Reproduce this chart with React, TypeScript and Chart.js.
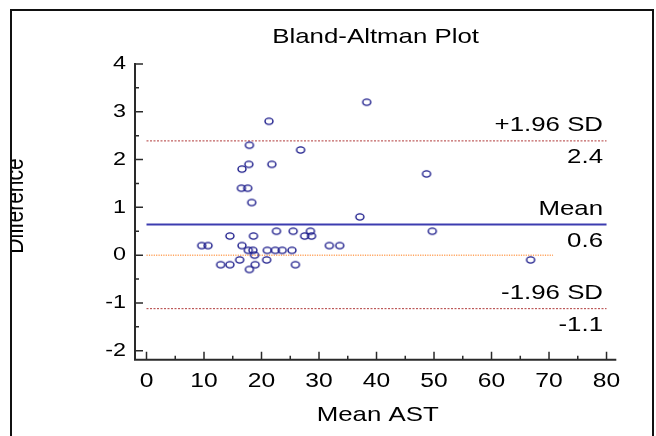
import React, { useEffect, useRef } from "react";
import { Chart, registerables } from "chart.js";

Chart.register(...registerables);

// ---- data ----
const meanAST = [
  21.3, 17.9, 26.8, 17.8, 21.8, 16.6, 16.5, 17.6, 18.3, 22.6,
  25.5, 28.5, 27.5, 28.7, 14.5, 18.6, 9.6, 10.7, 16.6, 31.8,
  33.6, 17.7, 18.5, 21.0, 22.4, 23.6, 25.3, 18.8, 16.2, 20.9,
  12.9, 14.5, 18.9, 25.9, 17.9, 38.3, 48.7, 37.1, 49.7, 66.8,
];
const difference = [
  2.8, 2.3, 2.2, 1.9, 1.9, 1.8, 1.4, 1.4, 1.1, 0.5,
  0.5, 0.5, 0.4, 0.4, 0.4, 0.4, 0.2, 0.2, 0.2, 0.2,
  0.2, 0.1, 0.1, 0.1, 0.1, 0.1, 0.1, 0.0, -0.1, -0.1,
  -0.2, -0.2, -0.2, -0.2, -0.3, 3.2, 1.7, 0.8, 0.5, -0.1,
];
const meanDiff = 0.64;
const upperLoA = 2.39;
const lowerLoA = -1.12;
const lineStart = 0;
const lineEnd = 80;
const zeroLineEnd = 70.7;
const xTicks = [0, 10, 20, 30, 40, 50, 60, 70, 80];
const yTicks = [-2, -1, 0, 1, 2, 3, 4];
const upperText = ["+1.96 SD", "2.4"];
const meanText = ["Mean", "0.6"];
const lowerText = ["-1.96 SD", "-1.1"];
const chartTitle = "Bland-Altman Plot";
const xTitle = "Mean AST";
const yTitle = "Difference";

const SX = 1.23;
const FONT = '"Liberation Sans", Arial, sans-serif';

function makeMarker(): HTMLCanvasElement {
  const c = document.createElement("canvas");
  c.width = 12;
  c.height = 10;
  const g = c.getContext("2d")!;
  g.strokeStyle = "#1a1a8a";
  g.lineWidth = 1.4;
  g.beginPath();
  g.ellipse(6, 5, 4.0, 3.1, 0, 0, Math.PI * 2);
  g.stroke();
  return c;
}

function txt(
  ctx: CanvasRenderingContext2D,
  s: string,
  x: number,
  y: number,
  size: number,
  align: CanvasTextAlign,
  baseline: CanvasTextBaseline
) {
  ctx.save();
  ctx.translate(x, y);
  ctx.scale(SX, 1);
  ctx.font = `${size}px ${FONT}`;
  ctx.textAlign = align;
  ctx.textBaseline = baseline;
  ctx.fillStyle = "#000";
  ctx.fillText(s, 0, 0);
  ctx.restore();
}

const decor = {
  id: "decor",
  afterDraw(chart: any) {
    const ctx: CanvasRenderingContext2D = chart.ctx;
    const xs = chart.scales.x;
    const ys = chart.scales.y;
    const a = chart.chartArea;
    ctx.save();

    // outer frame
    ctx.strokeStyle = "#111";
    ctx.lineWidth = 2;
    ctx.strokeRect(11, 10, 642, 520);

    // axes
    ctx.strokeStyle = "#2a2a2a";
    ctx.lineWidth = 2;
    ctx.beginPath();
    ctx.moveTo(a.left, a.top);
    ctx.lineTo(a.left, a.bottom);
    ctx.lineTo(a.right, a.bottom);
    ctx.stroke();

    // ticks (inward)
    ctx.lineWidth = 1.5;
    ctx.beginPath();
    yTicks.forEach((v) => {
      const p = ys.getPixelForValue(v);
      ctx.moveTo(a.left, p);
      ctx.lineTo(a.left + 8, p);
      if (v < yTicks[yTicks.length - 1]) {
        const m = ys.getPixelForValue(v + 0.5);
        ctx.moveTo(a.left, m);
        ctx.lineTo(a.left + 4, m);
      }
    });
    xTicks.forEach((v) => {
      const p = xs.getPixelForValue(v);
      ctx.moveTo(p, a.bottom);
      ctx.lineTo(p, a.bottom - 8);
      if (v < xTicks[xTicks.length - 1]) {
        const m = xs.getPixelForValue(v + 5);
        ctx.moveTo(m, a.bottom);
        ctx.lineTo(m, a.bottom - 4);
      }
    });
    ctx.stroke();

    // tick labels
    yTicks.forEach((v) => {
      txt(ctx, String(v), a.left - 9, ys.getPixelForValue(v), 19, "right", "middle");
    });
    xTicks.forEach((v) => {
      txt(ctx, String(v), xs.getPixelForValue(v), a.bottom + 27, 20, "center", "alphabetic");
    });

    // titles
    txt(ctx, chartTitle, (a.left + a.right) / 2, 43, 21, "center", "alphabetic");
    txt(ctx, xTitle, (a.left + a.right) / 2 + 2, 421, 21, "center", "alphabetic");

    // y title, clipped by the frame
    ctx.save();
    ctx.beginPath();
    ctx.rect(12, 11, 640, 420);
    ctx.clip();
    ctx.translate(22.7, 206);
    ctx.scale(SX, 1);
    ctx.rotate(-Math.PI / 2);
    ctx.font = `21px ${FONT}`;
    ctx.textAlign = "center";
    ctx.textBaseline = "alphabetic";
    ctx.fillStyle = "#000";
    ctx.fillText(yTitle, 0, 0);
    ctx.restore();

    // line annotations
    const rx = xs.getPixelForValue(lineEnd) - 3.5;
    const groups: [string[], number][] = [
      [upperText, upperLoA],
      [meanText, meanDiff],
      [lowerText, lowerLoA],
    ];
    groups.forEach(([t, v]) => {
      const p = ys.getPixelForValue(v);
      txt(ctx, t[0], rx, p - 10, 21, "right", "alphabetic");
      txt(ctx, t[1], rx, p + 22, 21, "right", "alphabetic");
    });

    ctx.restore();
  },
};

export default function App() {
  const ref = useRef<HTMLCanvasElement | null>(null);

  useEffect(() => {
    if (!ref.current) return;
    const marker = makeMarker();
    const hline = (y: number, x0: number, x1: number) => [
      { x: x0, y },
      { x: x1, y },
    ];
    const chart = new Chart(ref.current, {
      type: "scatter",
      data: {
        datasets: [
          {
            label: "points",
            data: meanAST.map((x, i) => ({ x, y: difference[i] })),
            pointStyle: marker as any,
            pointRadius: 4,
            order: 0,
          },
          {
            label: "upper",
            data: hline(upperLoA, lineStart, lineEnd),
            showLine: true,
            borderColor: "#b03a3a",
            borderWidth: 1,
            borderDash: [2, 1.5],
            pointRadius: 0,
            order: 1,
          },
          {
            label: "lower",
            data: hline(lowerLoA, lineStart, lineEnd),
            showLine: true,
            borderColor: "#b03a3a",
            borderWidth: 1,
            borderDash: [2, 1.5],
            pointRadius: 0,
            order: 1,
          },
          {
            label: "mean",
            data: hline(meanDiff, lineStart, lineEnd),
            showLine: true,
            borderColor: "#3c3cb0",
            borderWidth: 2,
            pointRadius: 0,
            order: 1,
          },
          {
            label: "zero",
            data: hline(0, lineStart, zeroLineEnd),
            showLine: true,
            borderColor: "#ffa560",
            borderWidth: 1.5,
            borderDash: [1.2, 1.2],
            pointRadius: 0,
            order: 1,
          },
        ],
      },
      options: {
        animation: false,
        responsive: false,
        layout: { padding: { left: 135, top: 63, right: 39.7, bottom: 76.2 } },
        scales: {
          x: { type: "linear", min: -2, max: 81.7, display: false },
          y: { type: "linear", min: -2.19, max: 4.02, display: false },
        },
        plugins: {
          legend: { display: false },
          tooltip: { enabled: false },
        },
        events: [],
      },
      plugins: [decor],
    });
    return () => chart.destroy();
  }, []);

  return (
    <div style={{ position: "fixed", left: 0, top: 0, width: 656, height: 436, background: "#fff" }}>
      <canvas ref={ref} width={656} height={436} style={{ display: "block" }} />
    </div>
  );
}
